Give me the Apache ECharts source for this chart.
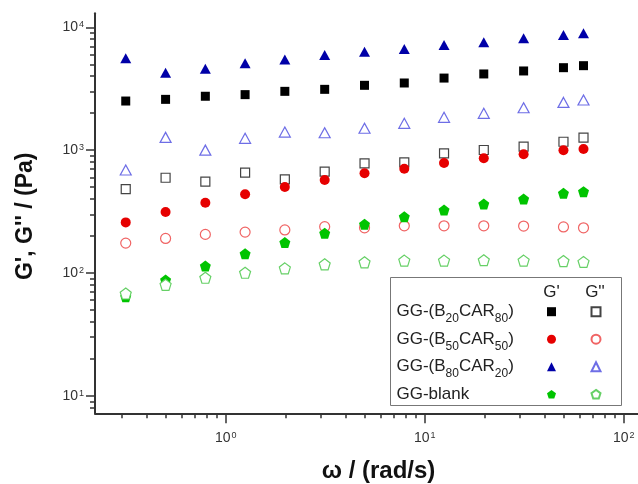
<!DOCTYPE html>
<html>
<head>
<meta charset="utf-8">
<script src="https://cdn.jsdelivr.net/npm/echarts/dist/echarts.min.js"></script>
<style>
html,body{margin:0;padding:0;background:#fff;}
#chart{width:638px;height:484px;}
</style>
</head>
<body>
<div id="chart"></div>
<script>
// ---- data ----
const omega = [0.314, 0.498, 0.789, 1.25, 1.98, 3.14, 4.98, 7.89, 12.5, 19.8, 31.4, 49.8, 62.8];
const b20car80_G1 = [2510, 2590, 2745, 2830, 3010, 3125, 3370, 3520, 3860, 4170, 4410, 4690, 4870];
const b20car80_G2 = [482, 596, 553, 655, 578, 667, 781, 796, 942, 1002, 1066, 1170, 1262];
const b50car50_G1 = [258, 313, 373, 437, 501, 571, 648, 706, 786, 858, 924, 996, 1020];
const b50car50_G2 = [175, 191, 206, 215, 224, 238, 233, 242, 242, 242, 241, 237, 233];
const b80car20_G1 = [5600, 4270, 4600, 5090, 5480, 5940, 6320, 6650, 7170, 7550, 8140, 8650, 8930];
const b80car20_G2 = [689, 1270, 1000, 1247, 1403, 1386, 1506, 1653, 1850, 1993, 2215, 2447, 2557];
const blank_G1 = [64, 87.5, 114, 143, 177, 210, 249, 287, 325, 364, 400, 445, 459];
const blank_G2 = [68, 80, 91.4, 100.4, 109, 117.5, 122, 126, 126, 127, 126, 125, 123];

const sampleNames = ['GG-(B20CAR80)', 'GG-(B50CAR50)', 'GG-(B80CAR20)', 'GG-blank'];
const sampleLabels = ['GG-(B{sub|20}CAR{sub|80})', 'GG-(B{sub|50}CAR{sub|50})', 'GG-(B{sub|80}CAR{sub|20})', 'GG-blank'];
const headerLabels = ["G'", "G''"];

const xMajorTicks = [1, 10, 100];
const xMinorTicks = [0.3, 0.4, 0.5, 0.6, 0.7, 0.8, 0.9, 2, 3, 4, 5, 6, 7, 8, 9, 20, 30, 40, 50, 60, 70, 80, 90];
const yMajorTicks = [10, 100, 1000, 10000];
const yMinorTicks = [8, 9, 20, 30, 40, 50, 60, 70, 80, 90, 200, 300, 400, 500, 600, 700, 800, 900, 2000, 3000, 4000, 5000, 6000, 7000, 8000, 9000];
const xMin = 0.22, xMax = 118;
const yMin = 7.2, yMax = 13000;

// ---- styling ----
const FONT = 'Liberation Sans, Arial, sans-serif';
const axisColor = '#333';
const pentagon = 'path://M0,-1 L0.951,-0.309 L0.588,0.809 L-0.588,0.809 L-0.951,-0.309 Z';

const styles = [
  { sym: 'rect', size: 9, fill: '#000000', border: '#000000', hollow: '#444444' },
  { sym: 'circle', size: 10, fill: '#e60000', border: '#e60000', hollow: '#f06464' },
  { sym: 'triangle', size: [11, 10], fill: '#0000a8', border: '#0000a8', hollow: '#6e6ee6' },
  { sym: pentagon, size: 11, fill: '#00c400', border: '#00c400', hollow: '#66d066' }
];
const valueSets = [[b20car80_G1, b20car80_G2], [b50car50_G1, b50car50_G2], [b80car20_G1, b80car20_G2], [blank_G1, blank_G2]];

const series = [];
const legendG1 = [], legendG2 = [];
valueSets.forEach((pair, i) => {
  const st = styles[i];
  const n1 = sampleNames[i] + " G'";
  const n2 = sampleNames[i] + " G''";
  legendG1.push(n1); legendG2.push(n2);
  series.push({
    name: n1, type: 'scatter', symbol: st.sym, symbolSize: st.size,
    itemStyle: { color: st.fill, borderColor: st.border, borderWidth: 0, opacity: 1 },
    data: omega.map((w, k) => [w, pair[0][k]]),
    z: 2
  });
  series.push({
    name: n2, type: 'scatter', symbol: st.sym, symbolSize: st.size,
    itemStyle: { color: '#ffffff', borderColor: st.hollow, borderWidth: 1.2, opacity: 1 },
    data: omega.map((w, k) => [w, pair[1][k]]),
    z: 2
  });
});

function powLabel(v) {
  const e = Math.round(Math.log10(v));
  return '10{sup|' + e + '}';
}
const labelRich = {
  sup: { fontSize: 9, verticalAlign: 'top', lineHeight: 9, color: '#333', fontFamily: FONT, padding: [0, 0, 0, 1] }
};

const rowTop = 301.7, rowH = 20, rowGap = 7.5;

const graphics = [
  { type: 'rect', shape: { x: 390.5, y: 277.5, width: 231, height: 128 },
    style: { fill: 'transparent', stroke: '#777', lineWidth: 1 }, z: 10 },
  { type: 'text', x: 551.5, y: 292, style: { text: headerLabels[0], fontSize: 17, fontFamily: FONT, fill: '#222', align: 'center', verticalAlign: 'middle' }, z: 11 },
  { type: 'text', x: 595, y: 292, style: { text: headerLabels[1], fontSize: 17, fontFamily: FONT, fill: '#222', align: 'center', verticalAlign: 'middle' }, z: 11 }
];
sampleLabels.forEach((lab, i) => {
  graphics.push({
    type: 'text', x: 396.5, y: rowTop + rowH / 2 + i * (rowH + rowGap),
    style: {
      text: lab, fontSize: 17, lineHeight: 26, fontFamily: FONT, fill: '#222',
      align: 'left', verticalAlign: 'middle',
      rich: { sub: { fontSize: 12, lineHeight: 6, verticalAlign: 'bottom', fontFamily: FONT, fill: '#222' } }
    },
    z: 11
  });
});

const chart = echarts.init(document.getElementById('chart'), null, { renderer: 'canvas' });
chart.setOption({
  animation: false,
  backgroundColor: '#ffffff',
  textStyle: { fontFamily: FONT },
  grid: { left: 95, right: 0, top: 13.3, bottom: 70.7, containLabel: false, outerBoundsMode: 'none' },
  xAxis: [
    {
      type: 'log', logBase: 10, min: xMin, max: xMax, position: 'bottom',
      axisLine: { show: true, lineStyle: { color: axisColor, width: 2 } },
      axisTick: { show: true, inside: false, length: 10, customValues: xMajorTicks, lineStyle: { color: axisColor, width: 1.5 } },
      minorTick: { show: false },
      axisLabel: { show: true, customValues: xMajorTicks, formatter: powLabel, margin: 18, fontSize: 14, color: '#333', fontFamily: FONT, rich: labelRich },
      splitLine: { show: false },
      name: 'ω / (rad/s)', nameLocation: 'middle', nameGap: 46,
      nameTextStyle: { fontSize: 24, fontWeight: 'bold', color: '#111', fontFamily: FONT, padding: [0, 0, 0, 24] }
    },
    {
      type: 'log', logBase: 10, min: xMin, max: xMax, position: 'bottom',
      axisLine: { show: false },
      axisTick: { show: true, inside: false, length: 5, customValues: xMinorTicks, lineStyle: { color: axisColor, width: 1.5 } },
      axisLabel: { show: false },
      splitLine: { show: false }
    }
  ],
  yAxis: [
    {
      type: 'log', logBase: 10, min: yMin, max: yMax, position: 'left',
      axisLine: { show: true, lineStyle: { color: axisColor, width: 2 } },
      axisTick: { show: true, inside: false, length: 9, customValues: yMajorTicks, lineStyle: { color: axisColor, width: 1.5 } },
      minorTick: { show: false },
      axisLabel: { show: true, customValues: yMajorTicks, formatter: powLabel, margin: 11, fontSize: 14, color: '#333', fontFamily: FONT, rich: labelRich },
      splitLine: { show: false },
      name: "G', G'' / (Pa)", nameLocation: 'middle', nameGap: 58,
      nameTextStyle: { fontSize: 23, fontWeight: 'bold', color: '#111', fontFamily: FONT, padding: [0, 6, 0, 0] }
    },
    {
      type: 'log', logBase: 10, min: yMin, max: yMax, position: 'left',
      axisLine: { show: false },
      axisTick: { show: true, inside: false, length: 5, customValues: yMinorTicks, lineStyle: { color: axisColor, width: 1.5 } },
      axisLabel: { show: false },
      splitLine: { show: false }
    }
  ],
  legend: [
    {
      data: legendG1, orient: 'vertical', left: 547, top: rowTop, padding: 0,
      itemGap: rowGap, itemWidth: 9, itemHeight: 9, selectedMode: false,
      formatter: () => ' ',
      textStyle: { fontSize: 17, lineHeight: 20 }
    },
    {
      data: legendG2, orient: 'vertical', left: 590.5, top: rowTop, padding: 0,
      itemGap: rowGap, itemWidth: 9, itemHeight: 9, selectedMode: false,
      formatter: () => ' ',
      textStyle: { fontSize: 17, lineHeight: 20 }
    }
  ],
  graphic: graphics,
  series: series
});
</script>
</body>
</html>
